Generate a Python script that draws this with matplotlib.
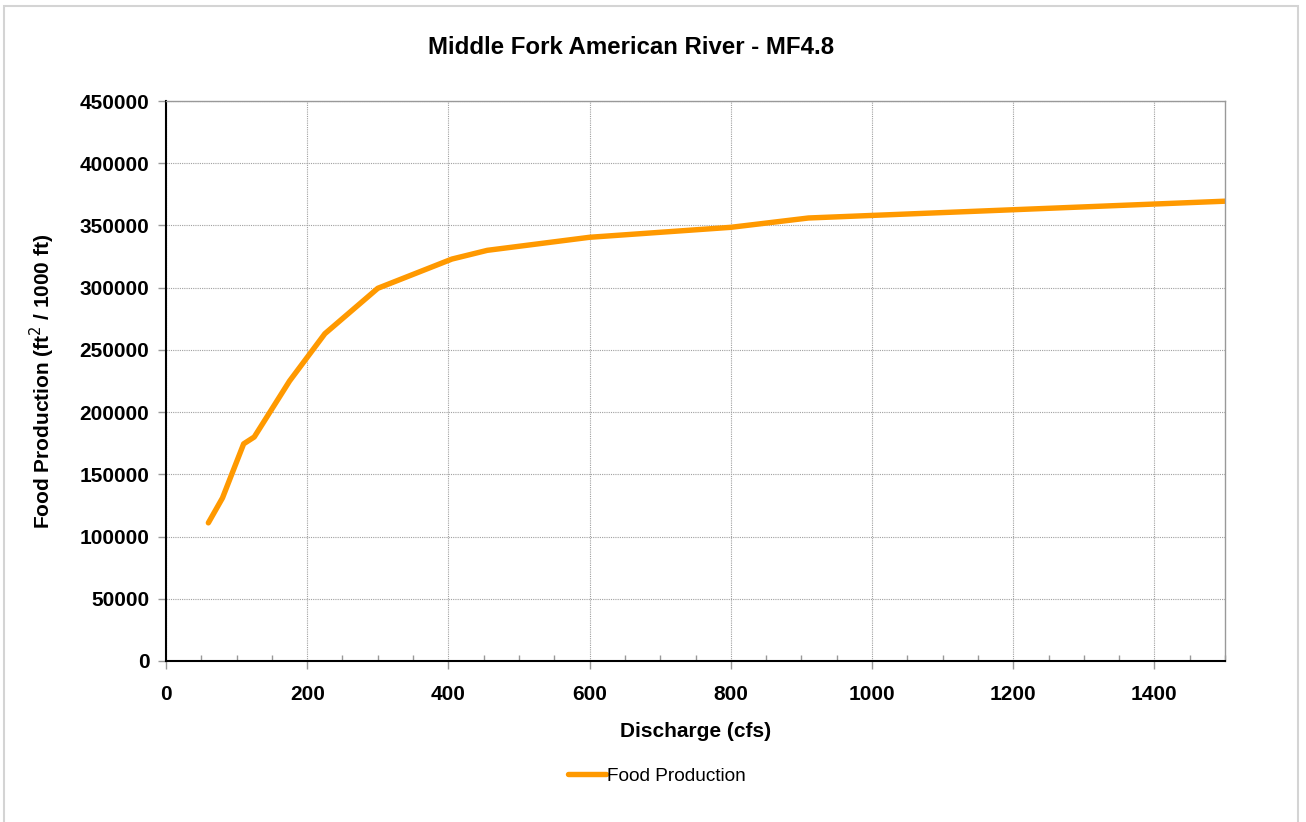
import matplotlib
matplotlib.use("Agg")
import matplotlib.pyplot as plt
from matplotlib.patches import Rectangle
from matplotlib.ticker import MultipleLocator

plt.rcParams['font.family'] = ['Liberation Sans', 'DejaVu Sans']

# discharge (cfs) and food production (ft2 / 1000 ft)
discharge = [60, 80, 110, 125, 175, 225, 300, 405, 455, 600, 800, 910, 1500]
food = [111000, 131000, 174500, 180000, 225000, 263000, 299500, 323000,
        330000, 340500, 348500, 356000, 369500]

title = "Middle Fork American River - MF4.8"
xlabel = "Discharge (cfs)"
ylabel = "Food Production (ft$^{2}$ / 1000 ft)"
series_name = "Food Production"

fig = plt.figure(figsize=(13.06, 8.22), dpi=100)
ax = fig.add_axes([0.1271, 0.1959, 0.938 - 0.1271, 0.8771 - 0.1959])

ax.plot(discharge, food, color="#FF9900", lw=3.9, solid_capstyle="round",
        solid_joinstyle="round", label=series_name)

ax.set_xlim(0, 1500); ax.set_ylim(0, 450000)
ax.xaxis.set_major_locator(MultipleLocator(200))
ax.xaxis.set_minor_locator(MultipleLocator(50))
ax.yaxis.set_major_locator(MultipleLocator(50000))
ax.grid(True, which="major", color="#a0a0a0", lw=0.8, ls=(0, (1, 1)))

for s in ["top", "right"]:
    ax.spines[s].set_color("#999999"); ax.spines[s].set_linewidth(1.0)
for s in ["left", "bottom"]:
    ax.spines[s].set_color("black"); ax.spines[s].set_linewidth(1.5)

ax.tick_params(axis="x", which="major", direction="out", length=6, color="#999999", width=1, pad=11)
ax.tick_params(axis="x", which="minor", direction="in", length=4, color="#999999", width=1)
ax.tick_params(axis="y", which="major", direction="out", length=6, color="#999999", width=1, pad=6)
for lab in ax.get_xticklabels() + ax.get_yticklabels():
    lab.set_fontsize(15); lab.set_fontweight("bold")

fig.text(0.483, 1 - 47 / 822, title, fontsize=17.3, fontweight="bold", ha="center", va="center")
ax.set_xlabel(xlabel, fontsize=15, fontweight="bold", labelpad=13)
ax.set_ylabel(ylabel, fontsize=15, fontweight="bold", labelpad=16)

fig.legend(loc="center", bbox_to_anchor=(0.503, 1 - 776 / 822), frameon=False, fontsize=13.7,
           handlelength=2.0, handletextpad=0.05)

fig.add_artist(Rectangle((0.003, -0.01), 0.9909, 1.0027, transform=fig.transFigure,
                         fill=False, edgecolor="#d4d4d4", lw=1.5))

fig.savefig("out.png", dpi=100)
